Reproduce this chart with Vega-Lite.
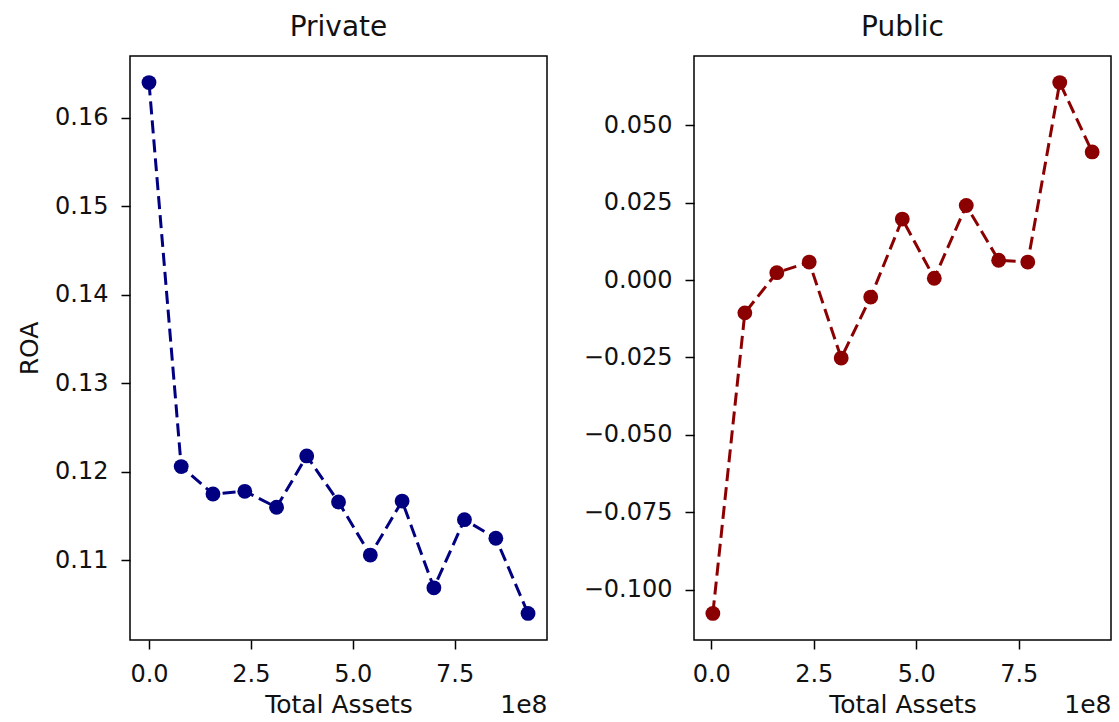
{
  "$schema": "https://vega.github.io/schema/vega-lite/v6.json",
  "background": "white",
  "padding": {"left": 16, "top": 13, "right": 5, "bottom": 3},
  "datasets": {
    "private": [
      {"assets": 0, "roa": 0.1640},
      {"assets": 79000000, "roa": 0.1206},
      {"assets": 157000000, "roa": 0.1175},
      {"assets": 235000000, "roa": 0.1178},
      {"assets": 313000000, "roa": 0.1160},
      {"assets": 387000000, "roa": 0.1218},
      {"assets": 465000000, "roa": 0.1166},
      {"assets": 543000000, "roa": 0.1106},
      {"assets": 621000000, "roa": 0.1167},
      {"assets": 699000000, "roa": 0.1069},
      {"assets": 774000000, "roa": 0.1146},
      {"assets": 851000000, "roa": 0.1125},
      {"assets": 930000000, "roa": 0.1040}
    ],
    "public": [
      {"assets": 4000000, "roa": -0.1077},
      {"assets": 82000000, "roa": -0.0106},
      {"assets": 160000000, "roa": 0.0024},
      {"assets": 239000000, "roa": 0.0058},
      {"assets": 317000000, "roa": -0.0252},
      {"assets": 389000000, "roa": -0.0055},
      {"assets": 466000000, "roa": 0.0197},
      {"assets": 544000000, "roa": 0.0006},
      {"assets": 622000000, "roa": 0.0241},
      {"assets": 701000000, "roa": 0.0064},
      {"assets": 772000000, "roa": 0.0058},
      {"assets": 850000000, "roa": 0.0638},
      {"assets": 929000000, "roa": 0.0414}
    ]
  },
  "hconcat": [
    {
      "width": 417,
      "height": 584,
      "title": {"text": "Private"},
      "data": {"name": "private"},
      "layer": [
        {
          "mark": {"type": "line", "color": "#000080", "strokeDash": [13, 6], "strokeWidth": 3},
          "encoding": {
            "x": {"field": "assets", "type": "quantitative",
                  "scale": {"domain": [-46600000, 976500000], "nice": false, "zero": false},
                  "axis": {"title": "Total Assets", "orient": "bottom", "values": [0, 250000000, 500000000, 750000000],
                           "labelExpr": "format(datum.value / 1e8, '.1f')"}},
            "y": {"field": "roa", "type": "quantitative",
                  "scale": {"domain": [0.101, 0.167], "nice": false, "zero": false},
                  "axis": {"title": "ROA", "values": [0.11, 0.12, 0.13, 0.14, 0.15, 0.16], "format": ".2f"}}
          }
        },
        {
          "mark": {"type": "point", "filled": true, "color": "#000080", "size": 220, "opacity": 1},
          "encoding": {
            "x": {"field": "assets", "type": "quantitative",
                  "axis": {"title": "1e8", "orient": "bottom", "values": [0, 250000000, 500000000, 750000000],
                           "labelExpr": "format(datum.value / 1e8, '.1f')",
                           "labelOpacity": 0, "tickOpacity": 0,
                           "titleAnchor": "end", "titleAlign": "right"}},
            "y": {"field": "roa", "type": "quantitative", "title": "ROA"}
          }
        }
      ],
      "resolve": {"axis": {"x": "independent"}}
    },
    {
      "width": 417,
      "height": 584,
      "title": {"text": "Public"},
      "data": {"name": "public"},
      "layer": [
        {
          "mark": {"type": "line", "color": "#8B0000", "strokeDash": [13, 6], "strokeWidth": 3},
          "encoding": {
            "x": {"field": "assets", "type": "quantitative",
                  "scale": {"domain": [-42000000, 975000000], "nice": false, "zero": false},
                  "axis": {"title": "Total Assets", "orient": "bottom", "values": [0, 250000000, 500000000, 750000000],
                           "labelExpr": "format(datum.value / 1e8, '.1f')"}},
            "y": {"field": "roa", "type": "quantitative",
                  "scale": {"domain": [-0.1163, 0.0724], "nice": false, "zero": false},
                  "axis": {"title": null, "values": [-0.1, -0.075, -0.05, -0.025, 0, 0.025, 0.05], "format": ".3f"}}
          }
        },
        {
          "mark": {"type": "point", "filled": true, "color": "#8B0000", "size": 220, "opacity": 1},
          "encoding": {
            "x": {"field": "assets", "type": "quantitative",
                  "axis": {"title": "1e8", "orient": "bottom", "values": [0, 250000000, 500000000, 750000000],
                           "labelExpr": "format(datum.value / 1e8, '.1f')",
                           "labelOpacity": 0, "tickOpacity": 0,
                           "titleAnchor": "end", "titleAlign": "right"}},
            "y": {"field": "roa", "type": "quantitative", "title": null}
          }
        }
      ],
      "resolve": {"axis": {"x": "independent"}}
    }
  ],
  "spacing": 34,
  "config": {
    "font": "DejaVu Sans",
    "view": {"stroke": "#000000", "strokeWidth": 1.5},
    "title": {"font": "DejaVu Sans", "fontSize": 28, "fontWeight": "normal", "color": "#111111", "offset": 14, "anchor": "middle"},
    "axis": {
      "grid": false,
      "domain": false,
      "tickColor": "#000000",
      "tickSize": 9,
      "tickWidth": 1.5,
      "labelFont": "DejaVu Sans",
      "labelFontSize": 24,
      "labelColor": "#111111",
      "labelPadding": 13,
      "titleFont": "DejaVu Sans",
      "titleFontSize": 25,
      "titleFontWeight": "normal",
      "titleColor": "#111111"
    },
    "axisX": {"titlePadding": 6},
    "axisY": {"titlePadding": 12}
  }
}
